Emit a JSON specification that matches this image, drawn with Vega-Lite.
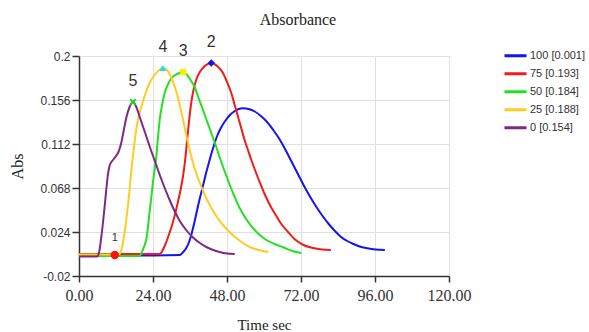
{
  "$schema": "https://vega.github.io/schema/vega-lite/v6.json",
  "width": 370,
  "height": 220,
  "autosize": {"type": "none"},
  "padding": {"left": 79, "top": 56, "right": 140, "bottom": 56},
  "background": "white",
  "title": {
    "text": "Absorbance",
    "font": "Liberation Serif",
    "fontSize": 16,
    "fontWeight": "normal",
    "color": "#222",
    "anchor": "middle",
    "frame": "bounds",
    "offset": 6
  },
  "config": {
    "view": {"stroke": null},
    "axis": {
      "gridColor": "#e0e0e0",
      "gridWidth": 1,
      "domainColor": "#333",
      "domainWidth": 1.5,
      "tickColor": "#333",
      "tickWidth": 1.5,
      "labelColor": "#333",
      "titleColor": "#222",
      "titleFontWeight": "normal"
    }
  },
  "datasets": {
    "curves": [
      {"s": "100 [0.001]", "t": 0, "a": 0.0005},
      {"s": "100 [0.001]", "t": 16, "a": 0.0005},
      {"s": "100 [0.001]", "t": 32.7, "a": 0.001},
      {"s": "100 [0.001]", "t": 33.8, "a": 0.004},
      {"s": "100 [0.001]", "t": 34.8, "a": 0.008},
      {"s": "100 [0.001]", "t": 35.7, "a": 0.014},
      {"s": "100 [0.001]", "t": 36.5, "a": 0.022},
      {"s": "100 [0.001]", "t": 37.3, "a": 0.032},
      {"s": "100 [0.001]", "t": 38.1, "a": 0.043},
      {"s": "100 [0.001]", "t": 38.9, "a": 0.054},
      {"s": "100 [0.001]", "t": 39.7, "a": 0.064},
      {"s": "100 [0.001]", "t": 40.5, "a": 0.074},
      {"s": "100 [0.001]", "t": 41.3, "a": 0.084},
      {"s": "100 [0.001]", "t": 42.1, "a": 0.093},
      {"s": "100 [0.001]", "t": 42.9, "a": 0.102},
      {"s": "100 [0.001]", "t": 43.8, "a": 0.111},
      {"s": "100 [0.001]", "t": 44.8, "a": 0.120},
      {"s": "100 [0.001]", "t": 46.0, "a": 0.128},
      {"s": "100 [0.001]", "t": 47.4, "a": 0.135},
      {"s": "100 [0.001]", "t": 48.8, "a": 0.1405},
      {"s": "100 [0.001]", "t": 50.3, "a": 0.1445},
      {"s": "100 [0.001]", "t": 51.8, "a": 0.147},
      {"s": "100 [0.001]", "t": 53.2, "a": 0.1477},
      {"s": "100 [0.001]", "t": 55.0, "a": 0.147},
      {"s": "100 [0.001]", "t": 57.0, "a": 0.1445},
      {"s": "100 [0.001]", "t": 59.0, "a": 0.140},
      {"s": "100 [0.001]", "t": 61.0, "a": 0.134},
      {"s": "100 [0.001]", "t": 63.0, "a": 0.126},
      {"s": "100 [0.001]", "t": 65.0, "a": 0.117},
      {"s": "100 [0.001]", "t": 67.0, "a": 0.106},
      {"s": "100 [0.001]", "t": 69.0, "a": 0.094},
      {"s": "100 [0.001]", "t": 71.0, "a": 0.082},
      {"s": "100 [0.001]", "t": 73.0, "a": 0.070},
      {"s": "100 [0.001]", "t": 75.0, "a": 0.059},
      {"s": "100 [0.001]", "t": 77.0, "a": 0.049},
      {"s": "100 [0.001]", "t": 79.0, "a": 0.040},
      {"s": "100 [0.001]", "t": 81.0, "a": 0.032},
      {"s": "100 [0.001]", "t": 83.0, "a": 0.025},
      {"s": "100 [0.001]", "t": 85.0, "a": 0.019},
      {"s": "100 [0.001]", "t": 87.0, "a": 0.015},
      {"s": "100 [0.001]", "t": 89.0, "a": 0.012},
      {"s": "100 [0.001]", "t": 91.0, "a": 0.0095},
      {"s": "100 [0.001]", "t": 93.5, "a": 0.0078},
      {"s": "100 [0.001]", "t": 96.2, "a": 0.0066},
      {"s": "100 [0.001]", "t": 99.2, "a": 0.006},

      {"s": "75 [0.193]", "t": 0, "a": 0.002},
      {"s": "75 [0.193]", "t": 13, "a": 0.002},
      {"s": "75 [0.193]", "t": 26.2, "a": 0.002},
      {"s": "75 [0.193]", "t": 27.0, "a": 0.005},
      {"s": "75 [0.193]", "t": 27.8, "a": 0.010},
      {"s": "75 [0.193]", "t": 28.9, "a": 0.019},
      {"s": "75 [0.193]", "t": 30.0, "a": 0.029},
      {"s": "75 [0.193]", "t": 31.0, "a": 0.040},
      {"s": "75 [0.193]", "t": 32.0, "a": 0.053},
      {"s": "75 [0.193]", "t": 33.0, "a": 0.067},
      {"s": "75 [0.193]", "t": 33.8, "a": 0.081},
      {"s": "75 [0.193]", "t": 34.5, "a": 0.098},
      {"s": "75 [0.193]", "t": 35.1, "a": 0.117},
      {"s": "75 [0.193]", "t": 35.7, "a": 0.135},
      {"s": "75 [0.193]", "t": 36.3, "a": 0.151},
      {"s": "75 [0.193]", "t": 37.0, "a": 0.164},
      {"s": "75 [0.193]", "t": 38.0, "a": 0.176},
      {"s": "75 [0.193]", "t": 39.2, "a": 0.184},
      {"s": "75 [0.193]", "t": 40.8, "a": 0.190},
      {"s": "75 [0.193]", "t": 42.9, "a": 0.193},
      {"s": "75 [0.193]", "t": 44.8, "a": 0.190},
      {"s": "75 [0.193]", "t": 46.7, "a": 0.183},
      {"s": "75 [0.193]", "t": 48.0, "a": 0.174},
      {"s": "75 [0.193]", "t": 49.4, "a": 0.163},
      {"s": "75 [0.193]", "t": 50.5, "a": 0.151},
      {"s": "75 [0.193]", "t": 51.6, "a": 0.139},
      {"s": "75 [0.193]", "t": 52.7, "a": 0.127},
      {"s": "75 [0.193]", "t": 53.7, "a": 0.116},
      {"s": "75 [0.193]", "t": 54.8, "a": 0.106},
      {"s": "75 [0.193]", "t": 55.9, "a": 0.096},
      {"s": "75 [0.193]", "t": 57.2, "a": 0.085},
      {"s": "75 [0.193]", "t": 58.6, "a": 0.074},
      {"s": "75 [0.193]", "t": 60.2, "a": 0.062},
      {"s": "75 [0.193]", "t": 61.9, "a": 0.051},
      {"s": "75 [0.193]", "t": 63.8, "a": 0.041},
      {"s": "75 [0.193]", "t": 65.6, "a": 0.032},
      {"s": "75 [0.193]", "t": 67.8, "a": 0.024},
      {"s": "75 [0.193]", "t": 70.3, "a": 0.016},
      {"s": "75 [0.193]", "t": 72.8, "a": 0.011},
      {"s": "75 [0.193]", "t": 75.9, "a": 0.008},
      {"s": "75 [0.193]", "t": 78.8, "a": 0.0065},
      {"s": "75 [0.193]", "t": 81.7, "a": 0.006},

      {"s": "50 [0.184]", "t": 0, "a": 0.0},
      {"s": "50 [0.184]", "t": 10, "a": 0.0},
      {"s": "50 [0.184]", "t": 19.7, "a": 0.0},
      {"s": "50 [0.184]", "t": 20.4, "a": 0.004},
      {"s": "50 [0.184]", "t": 21.2, "a": 0.010},
      {"s": "50 [0.184]", "t": 21.9, "a": 0.018},
      {"s": "50 [0.184]", "t": 22.4, "a": 0.030},
      {"s": "50 [0.184]", "t": 22.9, "a": 0.044},
      {"s": "50 [0.184]", "t": 23.5, "a": 0.060},
      {"s": "50 [0.184]", "t": 24.0, "a": 0.074},
      {"s": "50 [0.184]", "t": 24.6, "a": 0.088},
      {"s": "50 [0.184]", "t": 25.1, "a": 0.100},
      {"s": "50 [0.184]", "t": 25.6, "a": 0.118},
      {"s": "50 [0.184]", "t": 26.2, "a": 0.137},
      {"s": "50 [0.184]", "t": 27.0, "a": 0.152},
      {"s": "50 [0.184]", "t": 27.8, "a": 0.163},
      {"s": "50 [0.184]", "t": 28.9, "a": 0.172},
      {"s": "50 [0.184]", "t": 30.0, "a": 0.178},
      {"s": "50 [0.184]", "t": 31.8, "a": 0.182},
      {"s": "50 [0.184]", "t": 33.8, "a": 0.184},
      {"s": "50 [0.184]", "t": 34.8, "a": 0.182},
      {"s": "50 [0.184]", "t": 36.2, "a": 0.176},
      {"s": "50 [0.184]", "t": 37.5, "a": 0.169},
      {"s": "50 [0.184]", "t": 38.8, "a": 0.158},
      {"s": "50 [0.184]", "t": 40.2, "a": 0.146},
      {"s": "50 [0.184]", "t": 41.5, "a": 0.135},
      {"s": "50 [0.184]", "t": 42.9, "a": 0.123},
      {"s": "50 [0.184]", "t": 44.2, "a": 0.112},
      {"s": "50 [0.184]", "t": 45.6, "a": 0.099},
      {"s": "50 [0.184]", "t": 47.2, "a": 0.085},
      {"s": "50 [0.184]", "t": 48.9, "a": 0.071},
      {"s": "50 [0.184]", "t": 50.5, "a": 0.059},
      {"s": "50 [0.184]", "t": 52.1, "a": 0.048},
      {"s": "50 [0.184]", "t": 54.2, "a": 0.037},
      {"s": "50 [0.184]", "t": 56.4, "a": 0.028},
      {"s": "50 [0.184]", "t": 58.6, "a": 0.021},
      {"s": "50 [0.184]", "t": 60.8, "a": 0.016},
      {"s": "50 [0.184]", "t": 63.5, "a": 0.012},
      {"s": "50 [0.184]", "t": 66.2, "a": 0.0087},
      {"s": "50 [0.184]", "t": 69.2, "a": 0.005},
      {"s": "50 [0.184]", "t": 72.1, "a": 0.003},

      {"s": "25 [0.188]", "t": 0, "a": 0.0015},
      {"s": "25 [0.188]", "t": 6, "a": 0.0015},
      {"s": "25 [0.188]", "t": 13.2, "a": 0.002},
      {"s": "25 [0.188]", "t": 13.9, "a": 0.008},
      {"s": "25 [0.188]", "t": 14.4, "a": 0.016},
      {"s": "25 [0.188]", "t": 14.8, "a": 0.024},
      {"s": "25 [0.188]", "t": 15.4, "a": 0.038},
      {"s": "25 [0.188]", "t": 15.9, "a": 0.051},
      {"s": "25 [0.188]", "t": 16.4, "a": 0.066},
      {"s": "25 [0.188]", "t": 16.8, "a": 0.080},
      {"s": "25 [0.188]", "t": 17.2, "a": 0.092},
      {"s": "25 [0.188]", "t": 17.6, "a": 0.103},
      {"s": "25 [0.188]", "t": 18.1, "a": 0.116},
      {"s": "25 [0.188]", "t": 18.7, "a": 0.129},
      {"s": "25 [0.188]", "t": 19.4, "a": 0.140},
      {"s": "25 [0.188]", "t": 20.2, "a": 0.149},
      {"s": "25 [0.188]", "t": 21.5, "a": 0.162},
      {"s": "25 [0.188]", "t": 22.9, "a": 0.173},
      {"s": "25 [0.188]", "t": 24.5, "a": 0.181},
      {"s": "25 [0.188]", "t": 26.0, "a": 0.186},
      {"s": "25 [0.188]", "t": 27.2, "a": 0.188},
      {"s": "25 [0.188]", "t": 28.5, "a": 0.186},
      {"s": "25 [0.188]", "t": 30.0, "a": 0.178},
      {"s": "25 [0.188]", "t": 31.4, "a": 0.166},
      {"s": "25 [0.188]", "t": 32.9, "a": 0.148},
      {"s": "25 [0.188]", "t": 34.3, "a": 0.128},
      {"s": "25 [0.188]", "t": 35.6, "a": 0.110},
      {"s": "25 [0.188]", "t": 36.8, "a": 0.095},
      {"s": "25 [0.188]", "t": 38.0, "a": 0.083},
      {"s": "25 [0.188]", "t": 39.2, "a": 0.073},
      {"s": "25 [0.188]", "t": 40.8, "a": 0.061},
      {"s": "25 [0.188]", "t": 42.4, "a": 0.051},
      {"s": "25 [0.188]", "t": 44.5, "a": 0.040},
      {"s": "25 [0.188]", "t": 46.7, "a": 0.031},
      {"s": "25 [0.188]", "t": 48.8, "a": 0.024},
      {"s": "25 [0.188]", "t": 51.0, "a": 0.018},
      {"s": "25 [0.188]", "t": 53.2, "a": 0.013},
      {"s": "25 [0.188]", "t": 55.4, "a": 0.009},
      {"s": "25 [0.188]", "t": 58.3, "a": 0.006},
      {"s": "25 [0.188]", "t": 61.4, "a": 0.004},

      {"s": "0 [0.154]", "t": 0, "a": -0.0005},
      {"s": "0 [0.154]", "t": 3, "a": -0.0005},
      {"s": "0 [0.154]", "t": 6.0, "a": -0.0005},
      {"s": "0 [0.154]", "t": 6.6, "a": 0.005},
      {"s": "0 [0.154]", "t": 7.2, "a": 0.018},
      {"s": "0 [0.154]", "t": 7.8, "a": 0.034},
      {"s": "0 [0.154]", "t": 8.4, "a": 0.052},
      {"s": "0 [0.154]", "t": 8.9, "a": 0.068},
      {"s": "0 [0.154]", "t": 9.4, "a": 0.082},
      {"s": "0 [0.154]", "t": 10.0, "a": 0.091},
      {"s": "0 [0.154]", "t": 11.0, "a": 0.096},
      {"s": "0 [0.154]", "t": 12.0, "a": 0.100},
      {"s": "0 [0.154]", "t": 12.8, "a": 0.104},
      {"s": "0 [0.154]", "t": 13.7, "a": 0.113},
      {"s": "0 [0.154]", "t": 14.6, "a": 0.127},
      {"s": "0 [0.154]", "t": 15.4, "a": 0.139},
      {"s": "0 [0.154]", "t": 16.4, "a": 0.149},
      {"s": "0 [0.154]", "t": 17.5, "a": 0.154},
      {"s": "0 [0.154]", "t": 18.6, "a": 0.149},
      {"s": "0 [0.154]", "t": 19.7, "a": 0.139},
      {"s": "0 [0.154]", "t": 20.8, "a": 0.129},
      {"s": "0 [0.154]", "t": 21.9, "a": 0.119},
      {"s": "0 [0.154]", "t": 23.2, "a": 0.107},
      {"s": "0 [0.154]", "t": 24.6, "a": 0.095},
      {"s": "0 [0.154]", "t": 26.2, "a": 0.081},
      {"s": "0 [0.154]", "t": 27.8, "a": 0.068},
      {"s": "0 [0.154]", "t": 29.4, "a": 0.056},
      {"s": "0 [0.154]", "t": 31.0, "a": 0.045},
      {"s": "0 [0.154]", "t": 32.7, "a": 0.035},
      {"s": "0 [0.154]", "t": 34.5, "a": 0.027},
      {"s": "0 [0.154]", "t": 36.8, "a": 0.019},
      {"s": "0 [0.154]", "t": 39.2, "a": 0.013},
      {"s": "0 [0.154]", "t": 41.3, "a": 0.009},
      {"s": "0 [0.154]", "t": 43.5, "a": 0.006},
      {"s": "0 [0.154]", "t": 45.6, "a": 0.004},
      {"s": "0 [0.154]", "t": 48.0, "a": 0.0025},
      {"s": "0 [0.154]", "t": 50.5, "a": 0.002}
    ],
    "peaks": [
      {"id": "1", "t": 11.6, "a": 0.001},
      {"id": "2", "t": 42.9, "a": 0.193},
      {"id": "3", "t": 33.8, "a": 0.184},
      {"id": "4", "t": 27.2, "a": 0.188},
      {"id": "5", "t": 17.5, "a": 0.154}
    ]
  },
  "layer": [
    {
      "data": {"name": "curves"},
      "mark": {"type": "line", "strokeWidth": 2, "interpolate": "monotone"},
      "encoding": {
        "x": {
          "field": "t",
          "type": "quantitative",
          "scale": {"domain": [0, 120], "nice": false, "zero": false},
          "axis": {
            "title": "Time sec",
            "values": [0, 24, 48, 72, 96, 120],
            "format": ".2f",
            "labelFont": "Liberation Serif",
            "labelFontSize": 16,
            "labelPadding": 5,
            "tickSize": 6,
            "titleFont": "Liberation Serif",
            "titleFontSize": 15,
            "titlePadding": 14,
            "labelFlush": false
          }
        },
        "y": {
          "field": "a",
          "type": "quantitative",
          "scale": {"domain": [-0.02, 0.2], "nice": false, "zero": false},
          "axis": {
            "title": "Abs",
            "values": [-0.02, 0.024, 0.068, 0.112, 0.156, 0.2],
            "labelExpr": "replace(format(datum.value, '~g'), '\u2212', '-')",
            "labelFont": "Liberation Sans",
            "labelFontSize": 12,
            "labelPadding": 2,
            "tickSize": 7,
            "titleFont": "Liberation Serif",
            "titleFontSize": 16,
            "titlePadding": 14,
            "labelFlush": false
          }
        },
        "color": {
          "field": "s",
          "type": "nominal",
          "sort": null,
          "scale": {
            "domain": ["100 [0.001]", "75 [0.193]", "50 [0.184]", "25 [0.188]", "0 [0.154]"],
            "range": ["#1414ee", "#f01c1c", "#22e022", "#ffcc22", "#7e2a84"]
          },
          "legend": {
            "title": null,
            "orient": "none",
            "legendX": 424,
            "legendY": -9,
            "symbolType": "stroke",
            "symbolSize": 484,
            "symbolStrokeWidth": 3,
            "clipHeight": 17.5,
            "rowPadding": 0,
            "padding": 0,
            "labelFont": "Liberation Sans",
            "labelFontSize": 11,
            "labelColor": "#333",
            "labelOffset": 2
          }
        }
      }
    },
    {
      "data": {"name": "peaks"},
      "transform": [{"filter": "datum.id == '1'"}],
      "mark": {"type": "point", "shape": "circle", "filled": true, "color": "#ff1010", "size": 70, "opacity": 1},
      "encoding": {"x": {"field": "t", "type": "quantitative"}, "y": {"field": "a", "type": "quantitative"}}
    },
    {
      "data": {"name": "peaks"},
      "transform": [{"filter": "datum.id == '2'"}],
      "mark": {"type": "point", "shape": "diamond", "filled": true, "color": "#1414ee", "size": 55, "opacity": 1},
      "encoding": {"x": {"field": "t", "type": "quantitative"}, "y": {"field": "a", "type": "quantitative"}}
    },
    {
      "data": {"name": "peaks"},
      "transform": [{"filter": "datum.id == '3'"}],
      "mark": {"type": "point", "shape": "square", "filled": true, "color": "#ffee00", "size": 40, "opacity": 1},
      "encoding": {"x": {"field": "t", "type": "quantitative"}, "y": {"field": "a", "type": "quantitative"}}
    },
    {
      "data": {"name": "peaks"},
      "transform": [{"filter": "datum.id == '4'"}],
      "mark": {"type": "point", "shape": "triangle-up", "filled": true, "color": "#22dde8", "size": 50, "opacity": 1},
      "encoding": {"x": {"field": "t", "type": "quantitative"}, "y": {"field": "a", "type": "quantitative"}}
    },
    {
      "data": {"name": "peaks"},
      "transform": [{"filter": "datum.id == '5'"}],
      "mark": {"type": "point", "shape": "M-1,-1L1,1M-1,1L1,-1", "filled": false, "color": "#22d022", "strokeWidth": 2, "size": 30, "opacity": 1},
      "encoding": {"x": {"field": "t", "type": "quantitative"}, "y": {"field": "a", "type": "quantitative"}}
    },
    {
      "data": {"name": "peaks"},
      "transform": [{"filter": "datum.id != '1'"}],
      "mark": {"type": "text", "font": "Liberation Sans", "fontSize": 16, "color": "#333", "baseline": "middle", "align": "center", "dy": -21},
      "encoding": {
        "x": {"field": "t", "type": "quantitative"},
        "y": {"field": "a", "type": "quantitative"},
        "text": {"field": "id"}
      }
    },
    {
      "data": {"name": "peaks"},
      "transform": [{"filter": "datum.id == '1'"}],
      "mark": {"type": "text", "font": "Liberation Sans", "fontSize": 11, "color": "#333", "baseline": "middle", "align": "center", "dy": -17},
      "encoding": {
        "x": {"field": "t", "type": "quantitative"},
        "y": {"field": "a", "type": "quantitative"},
        "text": {"field": "id"}
      }
    }
  ]
}
